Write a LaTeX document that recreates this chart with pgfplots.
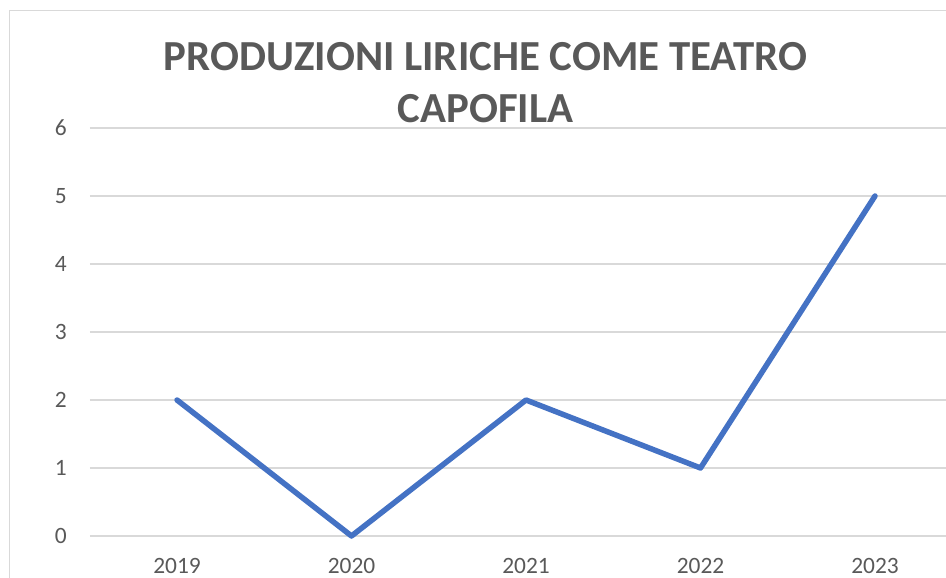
\documentclass[border=0pt]{standalone}
\usepackage{pgfplots}
\pgfplotsset{compat=1.18}
\usepackage{fontspec}
\setmainfont{Carlito}
\definecolor{linblue}{HTML}{4472C4}
\definecolor{gridgray}{HTML}{D9D9D9}
\definecolor{txtgray}{HTML}{595959}
\begin{document}
\begin{tikzpicture}[x=1bp,y=1bp]
\useasboundingbox (0,0) rectangle (946,578);
\begin{scope}
\clip (0,0) rectangle (946,578);
\draw[gridgray, line width=1.2bp] (9.5,-20) -- (9.5,567.5) -- (1000,567.5);
\begin{axis}[
  at={(89.75bp,42bp)}, anchor=south west,
  scale only axis, width=872.5bp, height=408bp,
  xmin=-0.5, xmax=4.5, ymin=0, ymax=6,
  xtick={0,1,2,3,4}, xticklabels={2019,2020,2021,2022,2023},
  ytick={0,1,2,3,4,5,6},
  ymajorgrids, major grid style={gridgray, line width=1.2bp},
  axis x line*=bottom, axis y line*=left,
  x axis line style={gridgray, line width=1.2bp, -},
  y axis line style={draw=none},
  major tick length=0pt,
  tick label style={font=\fontsize{23.5}{28}\selectfont, text=txtgray, inner sep=0pt},
  /pgf/number format/assume math mode=true,
  xticklabel style={anchor=base, yshift=-37.5bp},
  yticklabel style={anchor=east, xshift=-22.75bp},
  clip=false,
]
\addplot[linblue, line width=5.5bp, line cap=round, line join=round] coordinates {(0,2) (1,0) (2,2) (3,1) (4,5)};
\end{axis}
\node[anchor=base, inner sep=0pt, text=txtgray, font=\fontsize{43}{50}\selectfont\bfseries] at (485.5,507) {PRODUZIONI LIRICHE COME TEATRO};
\node[anchor=base, inner sep=0pt, text=txtgray, font=\fontsize{43}{50}\selectfont\bfseries] at (485.5,455) {CAPOFILA};
\end{scope}
\end{tikzpicture}
\end{document}
